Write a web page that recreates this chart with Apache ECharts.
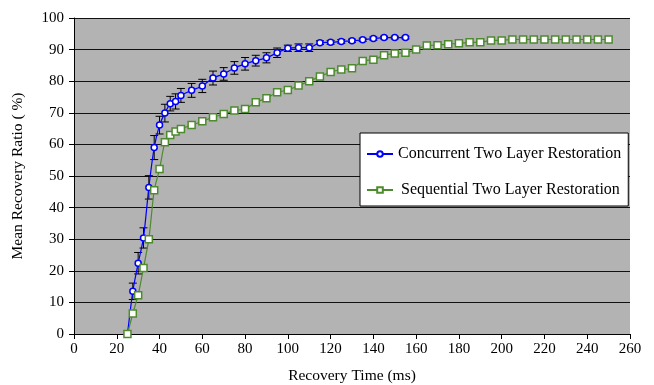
<!DOCTYPE html>
<html>
<head>
<meta charset="utf-8">
<script src="https://cdn.jsdelivr.net/npm/echarts@6/dist/echarts.min.js"></script>
<style>html,body{margin:0;padding:0;background:#fff}#c{width:654px;height:385px}</style>
</head>
<body>
<div id="c"></div>
<script>
const xTicks = [0,20,40,60,80,100,120,140,160,180,200,220,240,260];
const yTicks = [0,10,20,30,40,50,60,70,80,90,100];

const concurrentName = 'Concurrent Two Layer Restoration';
const concurrentX = [25,27.5,30,32.5,35,37.5,40,42.5,45,47.5,50,55,60,65,70,75,80,85,90,95,100,105,110,115,120,125,130,135,140,145,150,155];
const concurrentY = [0,13.5,22.4,30.4,46.4,59,66.1,69.9,72.9,73.6,75.5,77.1,78.5,81,82.3,84.2,85.5,86.5,87.4,89,90.4,90.6,90.6,92.2,92.3,92.6,92.8,93.1,93.5,93.8,93.8,93.8];
const concurrentErr = [0,2.6,3.4,3.2,3.7,3.8,2.8,2.8,2.3,2.4,2.2,2.2,2.1,2.2,2.0,2.0,2.0,1.7,1.6,1.5,1.0,1.2,1.2,0.6,0.6,0.6,0.5,0.5,0.5,0.4,0.4,0.4];

const sequentialName = 'Sequential Two Layer Restoration';
const sequentialX = [25,27.5,30,32.5,35,37.5,40,42.5,45,47.5,50,55,60,65,70,75,80,85,90,95,100,105,110,115,120,125,130,135,140,145,150,155,160,165,170,175,180,185,190,195,200,205,210,215,220,225,230,235,240,245,250];
const sequentialY = [0,6.5,12.3,20.9,30,45.5,52.2,60.7,63,64.1,64.9,66.1,67.3,68.6,69.6,70.7,71.2,73.3,74.6,76.5,77.2,78.6,80,81.5,82.9,83.7,84.1,86.4,86.8,88.2,88.8,89,90,91.3,91.4,91.7,92,92.3,92.3,92.9,92.9,93.2,93.2,93.2,93.2,93.2,93.2,93.2,93.2,93.2,93.2];

const serif = 'Liberation Serif';
const chart = echarts.init(document.getElementById('c'));
chart.setOption({
  animation: false,
  backgroundColor: '#ffffff',
  grid: {left: 74, right: 24, top: 18, bottom: 51, show: true, backgroundColor: '#b3b3b3', borderWidth: 0,
    containLabel: false, outerBoundsMode: 'none'},
  legend: {
    orient: 'vertical', left: 360, top: 133,
    backgroundColor: '#ffffff', borderColor: '#000000', borderWidth: 1,
    padding: [13, 7, 8, 6], itemGap: 20, itemWidth: 26, itemHeight: 7,
    textStyle: {fontFamily: serif, fontSize: 16, color: '#000',
      rich: {s: {fontFamily: serif, fontSize: 16, color: '#000', padding: [0, 0, 0, 3]}}},
    formatter: name => name === sequentialName ? '{s|' + name + '}' : name,
    data: [concurrentName, sequentialName]
  },
  xAxis: {
    type: 'value', min: 0, max: 260, interval: 20,
    name: 'Recovery Time (ms)', nameLocation: 'middle', nameGap: 34,
    nameTextStyle: {fontFamily: serif, fontSize: 15.5, color: '#000'},
    axisLine: {show: true, lineStyle: {color: '#000', width: 1}},
    axisTick: {show: true, length: 5, lineStyle: {color: '#000'}},
    axisLabel: {fontFamily: serif, fontSize: 15, color: '#000', margin: 8,
      formatter: v => xTicks.includes(v) ? String(v) : ''},
    splitLine: {show: false}
  },
  yAxis: {
    type: 'value', min: 0, max: 100, interval: 10,
    name: 'Mean Recovery Ratio ( %)', nameLocation: 'middle', nameGap: 48,
    nameTextStyle: {fontFamily: serif, fontSize: 15.5, color: '#000'},
    axisLine: {show: true, lineStyle: {color: '#000', width: 1}},
    axisTick: {show: true, length: 5, lineStyle: {color: '#000'}},
    axisLabel: {fontFamily: serif, fontSize: 15, color: '#000', margin: 10,
      formatter: v => yTicks.includes(v) ? String(v) : ''},
    splitLine: {show: true, lineStyle: {color: '#111', width: 1}}
  },
  series: [
    {
      type: 'custom', name: 'err', silent: true, z: 2,
      data: concurrentX.map((x, i) => [x, concurrentY[i], concurrentErr[i]]),
      renderItem: function (params, api) {
        const x = api.value(0), y = api.value(1), e = api.value(2);
        if (!e) return null;
        const t = api.coord([x, y + e]);
        const b = api.coord([x, y - e]);
        const w = 4;
        const st = {stroke: '#000', lineWidth: 1};
        return {type: 'group', children: [
          {type: 'line', shape: {x1: t[0], y1: t[1], x2: b[0], y2: b[1]}, style: st},
          {type: 'line', shape: {x1: t[0] - w, y1: t[1], x2: t[0] + w, y2: t[1]}, style: st},
          {type: 'line', shape: {x1: b[0] - w, y1: b[1], x2: b[0] + w, y2: b[1]}, style: st}
        ]};
      }
    },
    {
      type: 'line', name: concurrentName, z: 3, smooth: 0.2,
      data: concurrentX.map((x, i) => [x, concurrentY[i]]),
      symbol: 'circle', symbolSize: 6, showAllSymbol: true,
      lineStyle: {color: '#0000ff', width: 1.2},
      itemStyle: {color: '#ffffff', borderColor: '#0000ff', borderWidth: 1.5}
    },
    {
      type: 'line', name: sequentialName, z: 4, smooth: 0.2,
      data: sequentialX.map((x, i) => [x, sequentialY[i]]),
      symbol: 'rect', symbolSize: 7, showAllSymbol: true,
      lineStyle: {color: '#4e8a2e', width: 1.2},
      itemStyle: {color: '#ffffff', borderColor: '#4e8a2e', borderWidth: 1.5}
    }
  ]
});
</script>
</body>
</html>
